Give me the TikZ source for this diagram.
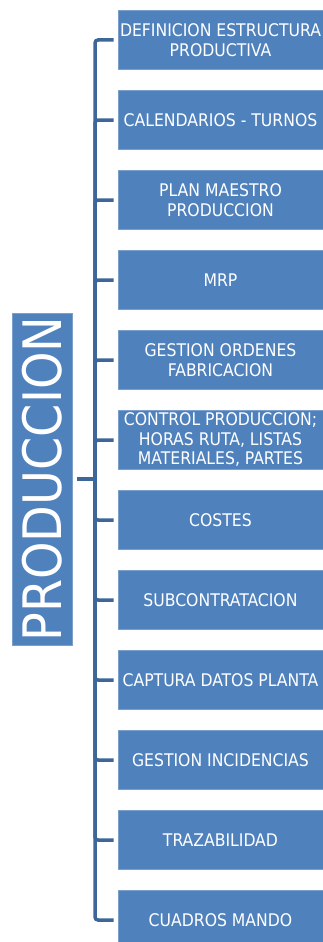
\documentclass[tikz,border=0pt]{standalone}
\usepackage{fontspec}
\setmainfont{DejaVu Sans Condensed}
\definecolor{boxblue}{HTML}{4F81BD}
\definecolor{linkblue}{HTML}{3D6699}
\tikzset{
  item/.style={fill=boxblue, draw=boxblue!75!white, line width=0.6pt,
    minimum width=205, minimum height=59, inner sep=0, text=white,
    align=center, font=\fontsize{17.4}{19.5}\selectfont},
  topic/.style={fill=boxblue, draw=boxblue!75!white, line width=0.6pt,
    minimum width=332, minimum height=60, inner sep=0, text=white,
    font=\fontsize{53}{56}\selectfont},
  link/.style={draw=linkblue, line width=3.5pt, rounded corners=3pt},
}
\begin{document}
\begin{tikzpicture}[x=1pt,y=-1pt]
  \useasboundingbox (0,0) rectangle (323,942);
  \clip (0,0) rectangle (323,942);

  \node[topic, rotate=90] (prod) at (42,479) {PRODUCCION};
  \coordinate (trunk) at (95,479);

  \foreach \txt [count=\i] in {
      {DEFINICION ESTRUCTURA\\PRODUCTIVA},
      {CALENDARIOS - TURNOS},
      {PLAN MAESTRO\\PRODUCCION},
      {MRP},
      {GESTION ORDENES\\FABRICACION},
      {CONTROL PRODUCCION;\\HORAS RUTA, LISTAS\\MATERIALES, PARTES},
      {COSTES},
      {SUBCONTRATACION},
      {CAPTURA DATOS PLANTA},
      {GESTION INCIDENCIAS},
      {TRAZABILIDAD},
      {CUADROS MANDO}}
  {
    \node[item] (b\i) at ({220.5},{40+80*(\i-1)}) {\txt};
    \draw[link] (trunk) |- ([xshift=-4pt]b\i.west);
  }

  \draw[link] ([xshift=5pt]prod.south) -- (trunk);
\end{tikzpicture}
\end{document}
